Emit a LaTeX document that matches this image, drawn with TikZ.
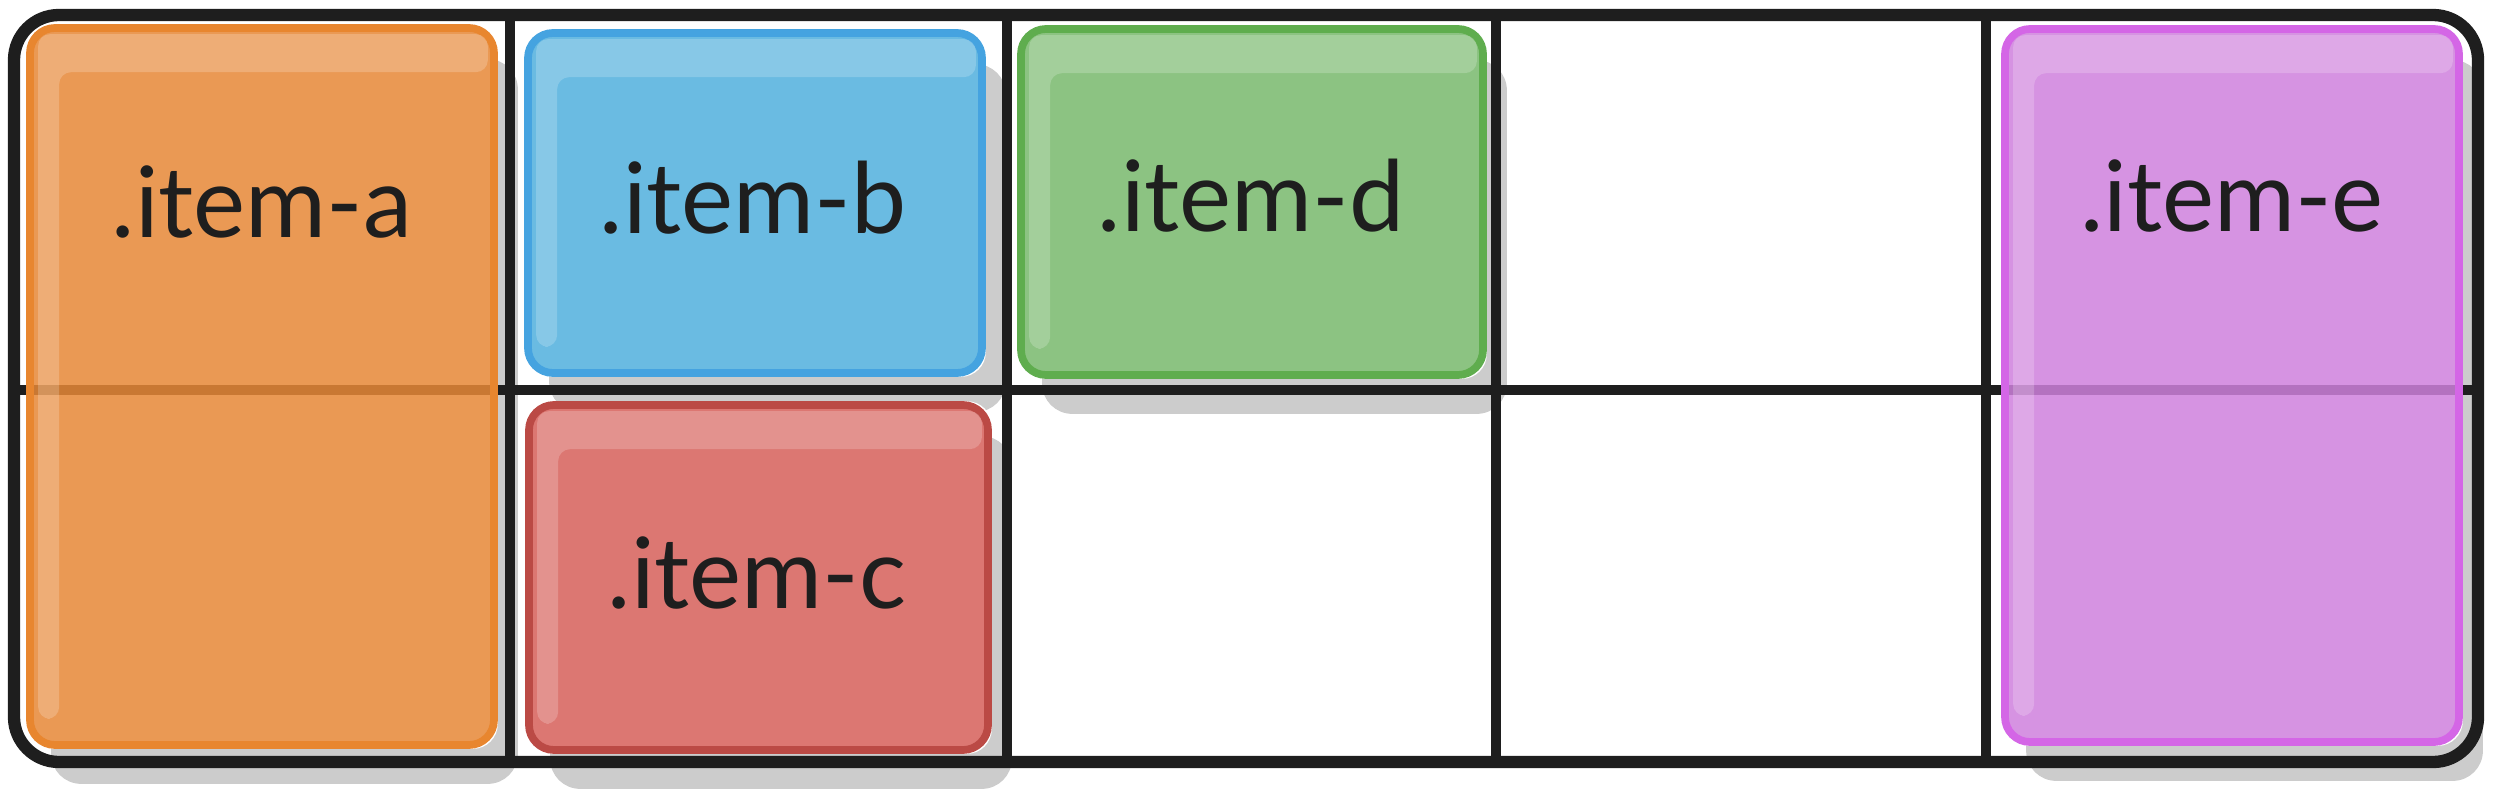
\documentclass[tikz,border=0pt]{standalone}
\usepackage{fontspec}
\setmainfont{Lato}
\usepackage{xcolor}
\usepackage{tikz}
\usetikzlibrary{calc,backgrounds}
\definecolor{ink}{HTML}{1E1E1E}
\definecolor{orgfill}{HTML}{E78837}\definecolor{orgline}{HTML}{E8862F}
\definecolor{bluefill}{HTML}{51B0DE}\definecolor{blueline}{HTML}{45A3E0}
\definecolor{grnfill}{HTML}{78B96D}\definecolor{grnline}{HTML}{5FAD4E}
\definecolor{redfill}{HTML}{D7605A}\definecolor{redline}{HTML}{BB4A45}
\definecolor{purfill}{HTML}{CF81DD}\definecolor{purline}{HTML}{D466E6}
\newcommand{\gloss}[1]{%
 \fill[white,fill opacity=0.2,rounded corners=0.12cm]
  ($(#1.south west)+(0.12,0.3)$) |- ($(#1.north east)+(-0.1,-0.1)$)
  -- ($(#1.north east)+(-0.1,-0.48)$) -| ($(#1.south west)+(0.33,0.3)$) -- cycle;}
\newcommand{\undercard}[1]{%
 \fill[black!20,rounded corners=0.3cm]
  ($(#1.south west)+(0.25,-0.35)$) rectangle ($(#1.north east)+(0.2,-0.35)$);
 \fill[white,rounded corners=0.25cm] (#1.south west) rectangle (#1.north east);}

\begin{document}
\begin{tikzpicture}[
 gridline/.style={draw=ink,line width=3.1pt},
 itembox/.style={draw=#1line,fill=#1fill,fill opacity=0.85,draw opacity=1,
  line width=2.2pt,rounded corners=0.25cm,inner sep=0pt},
 lbl/.style={text=ink,font=\fontsize{28}{32}\selectfont}]
\useasboundingbox (0,0) rectangle (25,7.9);

% grid items
\node[itembox=org,minimum width=4.64cm,minimum height=7.17cm] (a) at (2.62,4.035) {};
\node[itembox=blue,minimum width=4.54cm,minimum height=3.40cm] (b) at (7.55,5.87) {};
\node[itembox=red,minimum width=4.59cm,minimum height=3.45cm] (c) at (7.585,2.125) {};
\node[itembox=grn,minimum width=4.62cm,minimum height=3.46cm] (d) at (12.52,5.88) {};
\node[itembox=pur,minimum width=4.54cm,minimum height=7.13cm] (e) at (22.32,4.045) {};
\foreach \n in {a,b,c,d,e} {\gloss{\n}}

\node[lbl] (la) at (2.62,5.88) {.item-a};
\node[lbl] (lb) at (7.53,5.92) {.item-b};
\node[lbl] (lc) at (7.57,2.17) {.item-c};
\node[lbl] (ld) at (12.51,5.94) {.item-d};
\node[lbl] (le) at (22.32,5.94) {.item-e};

% container and tracks
\begin{scope}[on background layer]
\foreach \n in {a,b,c,d,e} {\undercard{\n}}
\draw[gridline,line width=3.5pt,rounded corners=0.45cm] (0.14,0.28) rectangle (24.78,7.75);
\foreach \x in {5.10,10.07,14.96,19.86} \draw[gridline] (\x,0.28) -- (\x,7.75);
\draw[gridline] (0.14,4.00) -- (24.78,4.00);
\end{scope}
\end{tikzpicture}
\end{document}
